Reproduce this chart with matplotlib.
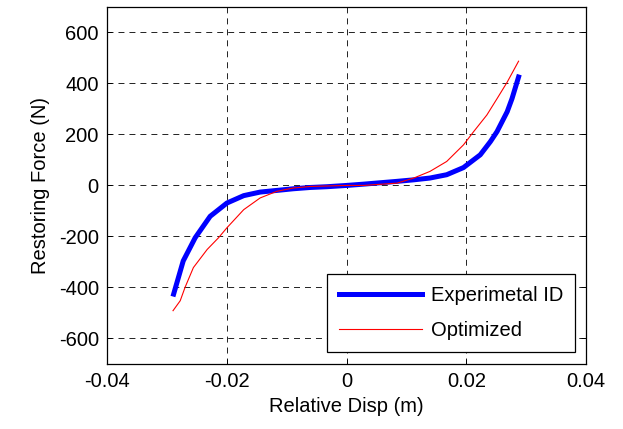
import numpy as np
import matplotlib
matplotlib.use("Agg")
import matplotlib.pyplot as plt

# Experimental identified restoring force
exp_disp = [-0.0289, -0.0273, -0.0253, -0.0228, -0.0200, -0.0172, -0.01445,
            -0.01166, -0.0089, -0.0061, -0.0033, 0.0, 0.0028, 0.0084, 0.0112,
            0.0139, 0.0167, 0.0195, 0.0223, 0.0240, 0.0251, 0.0268, 0.0276,
            0.0287]
exp_force = [-426, -296, -205, -121, -69, -40, -26, -19.5, -13, -8, -5, 0, 5,
             16, 22, 29, 42, 70, 120, 172, 211, 289, 340, 425]

# Optimized model
opt_disp = [-0.0290, -0.0278, -0.0270, -0.0256, -0.0233, -0.0214, -0.0200,
            -0.0172, -0.01445, -0.01166, -0.0089, -0.0061, 0.0, 0.0028,
            0.0084, 0.0112, 0.0139, 0.0167, 0.0195, 0.0212, 0.0234, 0.0251,
            0.0268, 0.0287]
opt_force = [-491, -452, -400, -322, -251, -205, -166, -95, -49, -23, -10, -4,
             0, 0, 9, 29, 55, 94, 159, 211, 276, 340, 405, 487]

x_ticks = [-0.04, -0.02, 0, 0.02, 0.04]
x_tick_labels = ["-0.04", "-0.02", "0", "0.02", "0.04"]
y_ticks = [-600, -400, -200, 0, 200, 400, 600]

plt.rcParams["font.family"] = ["Liberation Sans", "DejaVu Sans"]
plt.rcParams["lines.scale_dashes"] = False
plt.rcParams["axes.unicode_minus"] = False

fs = 14.5

fig = plt.figure(figsize=(6.23, 4.29), dpi=100, facecolor="white")
ax = fig.add_axes([0.172, 0.1515, 0.769, 0.8325])

ax.plot(exp_disp, exp_force, color="#0000ff", linewidth=3.6,
        label="Experimetal ID", solid_joinstyle="round")
ax.plot(opt_disp, opt_force, color="#ff0000", linewidth=0.8,
        label="Optimized")

ax.set_xlim(-0.04, 0.04)
ax.set_ylim(-700, 700)
ax.set_xticks(x_ticks)
ax.set_xticklabels(x_tick_labels)
ax.set_yticks(y_ticks)

ax.grid(True, color="#222222", linestyle=(0, (4.3, 3.6)), linewidth=0.7)
ax.tick_params(direction="in", length=3.5, width=0.7, top=False, right=True,
               labelsize=fs, pad=6)
for s in ax.spines.values():
    s.set_linewidth(0.9)

ax.set_xlabel("Relative Disp (m)", fontsize=fs, labelpad=4)
ax.set_ylabel("Restoring Force (N)", fontsize=fs, labelpad=6)

leg = ax.legend(loc="lower right", bbox_to_anchor=(0.977, 0.034),
                fontsize=fs, frameon=True, fancybox=False, shadow=False,
                handlelength=4.1, handletextpad=0.45, borderpad=0.6,
                labelspacing=0.8, borderaxespad=0)
leg.get_frame().set_edgecolor("black")
leg.get_frame().set_linewidth(0.9)
leg.get_frame().set_alpha(1)

fig.savefig("out.png", dpi=100, facecolor="white")
